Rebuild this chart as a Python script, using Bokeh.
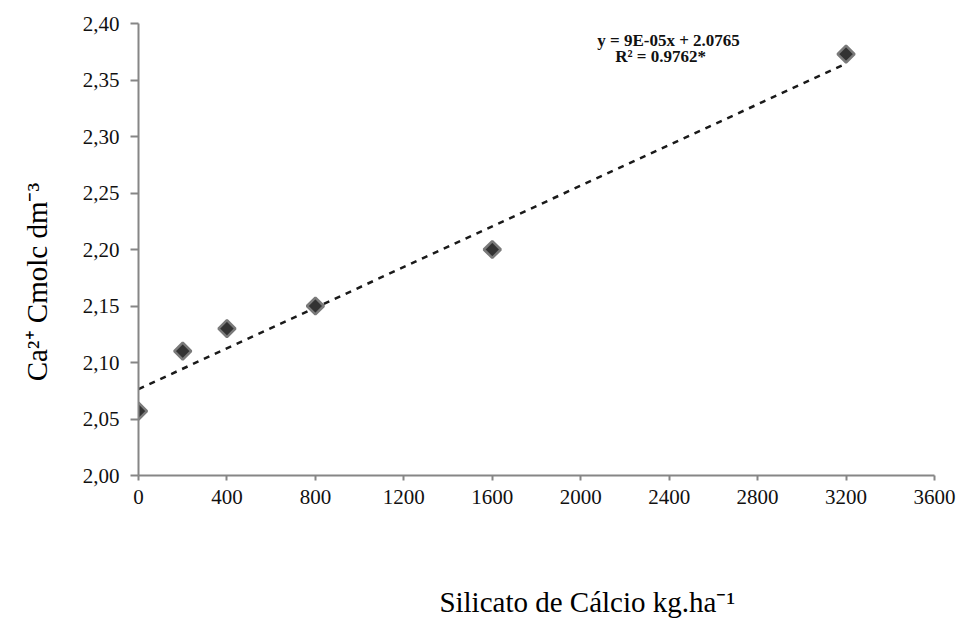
import math
from bokeh.plotting import figure
from bokeh.models import Range1d, FixedTicker, Label
from bokeh.embed import file_html
from bokeh.resources import INLINE

# Calcium silicate dose (kg/ha) and exchangeable Ca2+ (cmolc/dm3)
dose = [0, 200, 400, 800, 1600, 3200]
calcium = [2.057, 2.11, 2.13, 2.15, 2.20, 2.373]

# Linear fit reported on the chart
slope = 9e-05
intercept = 2.0765
fit_x = [0, 3200]
fit_text = ["y = 9E-05x + 2.0765", "R² = 0.9762*"]

x_ticks = [0, 400, 800, 1200, 1600, 2000, 2400, 2800, 3200, 3600]
y_ticks = [2.00, 2.05, 2.10, 2.15, 2.20, 2.25, 2.30, 2.35, 2.40]
y_tick_labels = ["2,00", "2,05", "2,10", "2,15", "2,20", "2,25", "2,30", "2,35", "2,40"]

x_title = "Silicato de Cálcio kg.ha⁻¹"
y_title = "Ca²⁺ Cmolc dm⁻³"

SERIF = "Liberation Serif"
AXIS_GREY = "#868686"
NBSP = "\u00a0"

p = figure(width=963, height=629, output_backend="svg", toolbar_location=None,
           x_range=Range1d(0, 3600), y_range=Range1d(2.0, 2.4),
           min_border_left=138, min_border_right=29, min_border_top=23,
           min_border_bottom=154)
p.outline_line_color = None
p.grid.visible = False
p.background_fill_color = "white"
p.border_fill_color = "white"

# axes
p.xaxis.ticker = FixedTicker(ticks=x_ticks)
p.yaxis.ticker = FixedTicker(ticks=y_ticks)
p.yaxis.major_label_overrides = {t: lab for t, lab in zip(y_ticks, y_tick_labels)}
for ax in (p.xaxis, p.yaxis):
    ax.axis_line_color = AXIS_GREY
    ax.axis_line_width = 2
    ax.major_tick_line_color = AXIS_GREY
    ax.major_tick_line_width = 2
    ax.major_tick_in = 0
    ax.minor_tick_line_color = None
    ax.major_label_text_font = SERIF
    ax.major_label_text_font_size = "21px"
    ax.major_label_text_color = "#111111"
    ax.axis_label_text_font = SERIF
    ax.axis_label_text_font_size = "29px"
    ax.axis_label_text_font_style = "normal"
    ax.axis_label_text_color = "black"
p.xaxis.major_tick_out = 5
p.yaxis.major_tick_out = 8
p.xaxis.major_label_standoff = 9
p.yaxis.major_label_standoff = 11

# axis titles; the non-breaking padding pushes each title off-centre along its axis
p.xaxis.axis_label = NBSP * 14 + x_title
p.xaxis.axis_label_standoff = 79
p.yaxis.axis_label = y_title + NBSP * 9
p.yaxis.axis_label_standoff = 27

# trend line
fit_y = [intercept + slope * x for x in fit_x]
p.line(fit_x, fit_y, line_color="#1a1a1a", line_width=2.5, line_dash="6 6")

# observed points
p.scatter(dose, calcium, marker="square", angle=math.pi / 4, size=12,
          fill_color="#333333", line_color="#7a7a7a", line_width=2.5)

# regression equation
p.add_layout(Label(x=2397, y=2.385, text=fit_text[0], text_font=SERIF,
                   text_font_size="17px", text_font_style="bold",
                   text_align="center", text_baseline="middle", text_color="#111111"))
p.add_layout(Label(x=2361, y=2.3705, text=fit_text[1], text_font=SERIF,
                   text_font_size="17px", text_font_style="bold",
                   text_align="center", text_baseline="middle", text_color="#111111"))

open("out.html", "w").write(file_html(p, INLINE))
